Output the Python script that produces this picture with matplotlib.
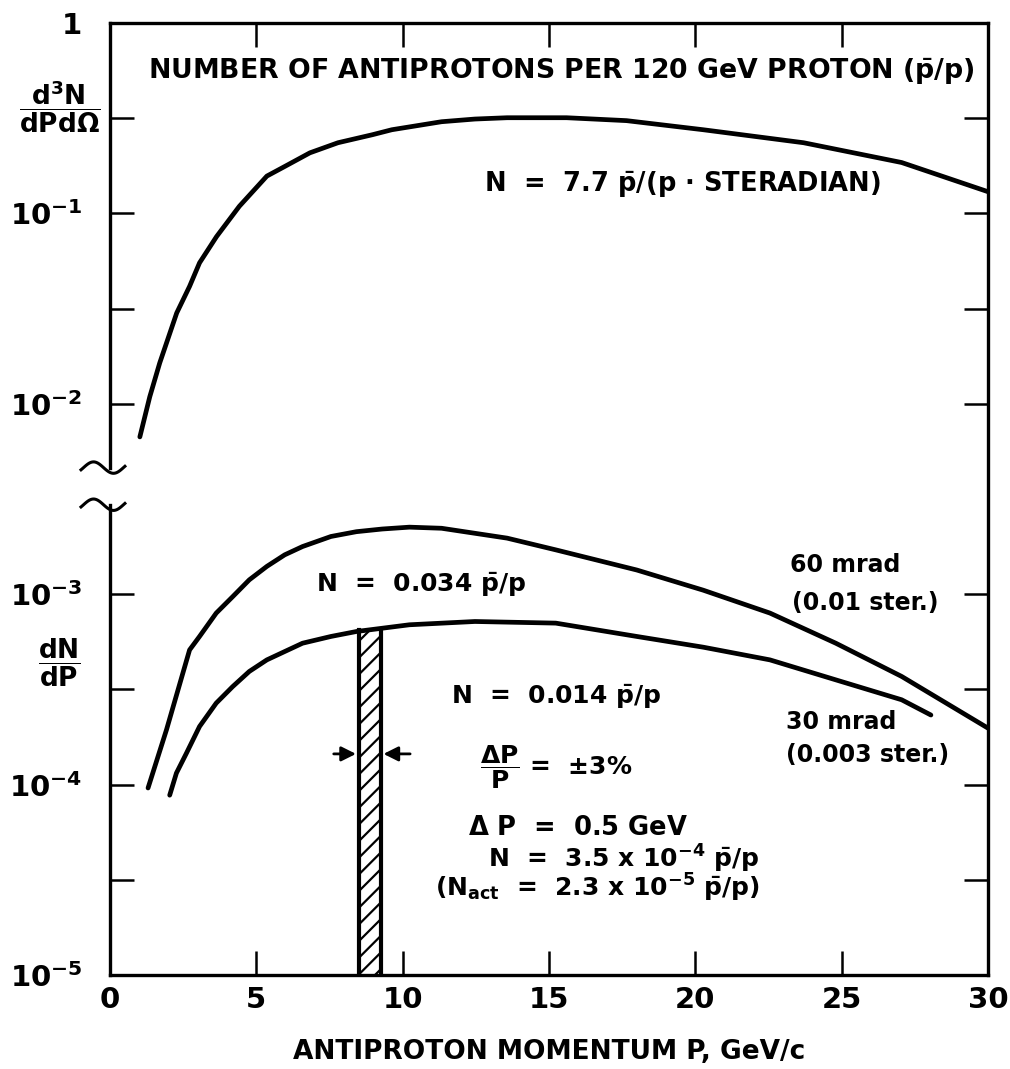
import numpy as np
import matplotlib
matplotlib.use("Agg")
import matplotlib.pyplot as plt

plt.rcParams['font.family'] = ['DejaVu Sans']
plt.rcParams['font.weight'] = 'bold'
plt.rcParams['mathtext.fontset'] = 'custom'
plt.rcParams['mathtext.rm'] = 'DejaVu Sans:bold'
plt.rcParams['mathtext.it'] = 'DejaVu Sans:bold'
plt.rcParams['mathtext.bf'] = 'DejaVu Sans:bold'
plt.rcParams['hatch.linewidth'] = 1.6

# d3N/dPdOmega, per 120 GeV proton
p_total = [1.02, 1.36, 1.70, 2.28, 2.72, 3.06, 3.64, 4.42, 5.36, 5.96, 6.83, 7.79, 8.97, 9.63,
           11.33, 12.47, 13.57, 15.6, 17.65, 20.27, 23.7, 27.05, 30.0]
n_total = [0.0067, 0.0109, 0.0164, 0.030, 0.0414, 0.055, 0.0755, 0.109, 0.157, 0.176, 0.208,
           0.235, 0.259, 0.275, 0.303, 0.313, 0.318, 0.318, 0.307, 0.275, 0.235, 0.185, 0.130]

# dN/dP, 60 mrad acceptance
p_60 = [1.30, 1.93, 2.49, 2.72, 3.06, 3.63, 4.19, 4.76, 5.36, 5.97, 6.58, 7.55, 8.42, 9.3,
        10.23, 11.33, 13.57, 15.23, 18.0, 20.27, 22.55, 24.8, 27.05, 30.0]
n_60 = [9.6e-5, 1.94e-4, 3.85e-4, 5.1e-4, 6.0e-4, 7.96e-4, 9.7e-4, 1.19e-3, 1.40e-3, 1.61e-3,
        1.78e-3, 2.01e-3, 2.13e-3, 2.20e-3, 2.25e-3, 2.22e-3, 1.97e-3, 1.71e-3, 1.34e-3, 1.05e-3,
        7.96e-4, 5.53e-4, 3.70e-4, 1.98e-4]

# dN/dP, 30 mrad acceptance
p_30 = [2.04, 2.27, 2.61, 3.06, 3.63, 4.19, 4.76, 5.36, 5.97, 6.58, 7.55, 8.42, 10.23, 12.47,
        15.23, 18.0, 20.27, 22.55, 24.8, 27.05, 28.05]
n_30 = [8.8e-5, 1.15e-4, 1.46e-4, 2.02e-4, 2.68e-4, 3.27e-4, 3.93e-4, 4.52e-4, 5.0e-4, 5.53e-4,
        6.0e-4, 6.37e-4, 6.91e-4, 7.19e-4, 7.05e-4, 6.0e-4, 5.27e-4, 4.52e-4, 3.55e-4, 2.79e-4,
        2.32e-4]

# momentum bite
bite_lo, bite_hi, bite_top = 8.5, 9.25, 6.5e-4
arrow_y = 1.45e-4

x_ticks = [0, 5, 10, 15, 20, 25, 30]
y_ticks = [1, 1e-1, 1e-2, 1e-3, 1e-4, 1e-5]
y_labels = ['1', r'$10^{-1}$', r'$10^{-2}$', r'$10^{-3}$', r'$10^{-4}$', r'$10^{-5}$']
y_half = [10**-0.5, 10**-1.5, 10**-3.5, 10**-4.5]
break_lo, break_hi = 10**-2.53, 10**-2.335

fig = plt.figure(figsize=(10.1, 10.69), dpi=100)
ax = fig.add_axes([0.1089, 0.0879, 0.8693, 0.8906])
ax.set_yscale('log')
ax.set_xlim(0, 30)
ax.set_ylim(1e-5, 1)

lw = 3.4
ax.plot(p_total, n_total, color='k', lw=lw, solid_capstyle='round', solid_joinstyle='round')
ax.plot(p_60, n_60, color='k', lw=lw, solid_capstyle='round', solid_joinstyle='round')
ax.plot(p_30, n_30, color='k', lw=lw, solid_capstyle='round', solid_joinstyle='round')

# hatched band
ax.fill_between([bite_lo, bite_hi], 1e-5, bite_top, facecolor='white', edgecolor='k',
                hatch='//', lw=0)
ax.plot([bite_lo, bite_lo], [1e-5, bite_top], color='k', lw=3)
ax.plot([bite_hi, bite_hi], [1e-5, bite_top], color='k', lw=3)
ax.annotate('', xy=(bite_lo, arrow_y), xytext=(bite_lo - 0.95, arrow_y),
            arrowprops=dict(arrowstyle='-|>', color='k', lw=2, mutation_scale=22))
ax.annotate('', xy=(bite_hi, arrow_y), xytext=(bite_hi + 1.1, arrow_y),
            arrowprops=dict(arrowstyle='-|>', color='k', lw=2, mutation_scale=22))

# frame with broken left spine
for s in ['top', 'right', 'bottom']:
    ax.spines[s].set_linewidth(2.4)
ax.spines['left'].set_visible(False)
yt = ax.get_yaxis_transform()
ax.plot([0, 0], [1e-5, break_lo], color='k', lw=2.4, transform=yt, clip_on=False)
ax.plot([0, 0], [break_hi, 1], color='k', lw=2.4, transform=yt, clip_on=False)
t = np.linspace(0, 1, 40)
sx = -0.033 + 0.05 * t
for yb in [break_lo, break_hi]:
    yy = yb * 10 ** (0.03 * np.sin(2 * np.pi * t * 1.1 - 0.4))
    ax.plot(sx, yy, color='k', lw=2.2, transform=yt, clip_on=False)

ax.set_xticks(x_ticks)
ax.set_yticks(y_ticks, y_labels)
ax.set_yticks(y_half, minor=True)
ax.yaxis.set_minor_formatter(plt.NullFormatter())
ax.tick_params(axis='both', which='both', direction='in', length=17, width=1.8,
               top=True, right=True)
ax.tick_params(axis='y', which='both', labelsize=21, pad=20)
ax.tick_params(axis='x', labelsize=21, pad=8)
ax.set_xlabel('ANTIPROTON MOMENTUM P, GeV/c', fontsize=19, fontweight='bold', labelpad=18)

# y-axis quantities
ax.text(-0.057, 0.912, r'$\dfrac{\mathrm{d^3N}}{\mathrm{dPd\Omega}}$', transform=ax.transAxes,
        ha='center', va='center', fontsize=19)
ax.text(-0.057, 0.328, r'$\dfrac{\mathrm{dN}}{\mathrm{dP}}$', transform=ax.transAxes,
        ha='center', va='center', fontsize=19)

ax.text(0.514, 0.949, r'NUMBER OF ANTIPROTONS PER 120 GeV PROTON ($\bar{\mathrm{p}}$/p)',
        transform=ax.transAxes, ha='center', va='center', fontsize=19.3)
ax.text(0.652, 0.830, r'N  =  7.7 $\bar{\mathrm{p}}$/(p $\cdot$ STERADIAN)',
        transform=ax.transAxes, ha='center', va='center', fontsize=18.5)
ax.text(0.354, 0.410, r'N  =  0.034 $\bar{\mathrm{p}}$/p',
        transform=ax.transAxes, ha='center', va='center', fontsize=18)
ax.text(0.837, 0.431, '60 mrad', transform=ax.transAxes, ha='center', va='center', fontsize=17)
ax.text(0.860, 0.391, '(0.01 ster.)', transform=ax.transAxes, ha='center', va='center', fontsize=17)
ax.text(0.833, 0.266, '30 mrad', transform=ax.transAxes, ha='center', va='center', fontsize=17)
ax.text(0.863, 0.231, '(0.003 ster.)', transform=ax.transAxes, ha='center', va='center', fontsize=17)

ax.text(0.508, 0.292, r'N  =  0.014 $\bar{\mathrm{p}}$/p',
        transform=ax.transAxes, ha='center', va='center', fontsize=18)
ax.text(0.421, 0.218, r'$\dfrac{\Delta \mathrm{P}}{\mathrm{P}}$ =  $\pm$3%',
        transform=ax.transAxes, ha='left', va='center', fontsize=18)
ax.text(0.408, 0.154, r'$\Delta$ P  =  0.5 GeV',
        transform=ax.transAxes, ha='left', va='center', fontsize=18.5)
ax.text(0.740, 0.122, r'N  =  3.5 x 10$^{-4}$ $\bar{\mathrm{p}}$/p',
        transform=ax.transAxes, ha='right', va='center', fontsize=18)
ax.text(0.740, 0.091, r'(N$_{\mathrm{act}}$  =  2.3 x 10$^{-5}$ $\bar{\mathrm{p}}$/p)',
        transform=ax.transAxes, ha='right', va='center', fontsize=18)

plt.savefig('out.png', dpi=100)
